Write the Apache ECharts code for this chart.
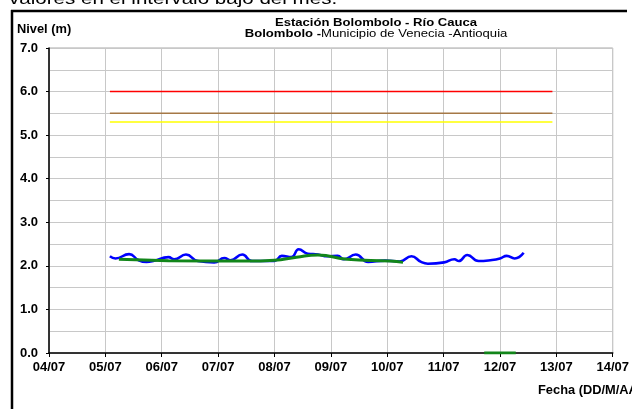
<!DOCTYPE html>
<html>
<head>
<meta charset="utf-8">
<script src="https://cdn.jsdelivr.net/npm/echarts@6/dist/echarts.min.js"></script>
<style>
html,body{margin:0;padding:0;background:#fff;}
#c{width:632px;height:409px;}
</style>
</head>
<body>
<div id="c"></div>
<script>
// ---- data ----
const xTickLabels = ['04/07','05/07','06/07','07/07','08/07','09/07','10/07','11/07','12/07','13/07','14/07'];
const yTickLabels = ['0.0','1.0','2.0','3.0','4.0','5.0','6.0','7.0'];
// day-of-month (decimal) , level (m)
const nivelObservado = [
  [5.08,2.22],[5.18,2.17],[5.42,2.27],[5.59,2.13],[5.73,2.09],[5.85,2.11],
  [6.12,2.20],[6.22,2.15],[6.43,2.26],[6.64,2.11],[6.93,2.08],[7.11,2.18],
  [7.22,2.13],[7.43,2.26],[7.60,2.11],[8.00,2.11],[8.13,2.23],[8.30,2.20],
  [8.43,2.38],[8.59,2.28],[8.77,2.26],[8.94,2.22],[9.12,2.23],[9.23,2.15],
  [9.44,2.26],[9.66,2.09],[9.96,2.12],[10.22,2.10],[10.43,2.22],[10.60,2.09],
  [10.72,2.05],[11.01,2.08],[11.19,2.15],[11.27,2.11],[11.42,2.25],[11.62,2.11],
  [11.83,2.13],[12.00,2.17],[12.12,2.23],[12.26,2.17],[12.42,2.30]
];
const nivelMedio = [
  [5.24,2.15],[6.12,2.12],[7.51,2.11],[8.00,2.13],[8.39,2.20],[8.77,2.25],
  [9.29,2.15],[10.05,2.11],[10.28,2.08]
];
const nivelMedioCero = [[11.72,0],[12.28,0]];
const umbralRojo = [[5.08,6.0],[12.93,6.0]];
const umbralNaranja = [[5.08,5.5],[12.93,5.5]];
const umbralAmarillo = [[5.08,5.3],[12.93,5.3]];

const chart = echarts.init(document.getElementById('c'), null, {renderer:'canvas'});
const F = "'Liberation Sans', Arial, sans-serif";

const lineSeries = (data, color, width, z, smooth) => ({
  type:'line', data, smooth: smooth, showSymbol:false, symbol:'none',
  lineStyle:{color, width}, z, silent:true, animation:false
});

chart.setOption({
  animation:false,
  backgroundColor:'#fff',
  grid:{left:49, right:10, top:48, bottom:56, show:true, borderColor:'#a8a8a8', borderWidth:1, backgroundColor:'transparent'},
  xAxis:{
    type:'value', min:4, max:14, interval:1,
    axisLine:{show:true, onZero:false, lineStyle:{color:'#000', width:1.5}},
    axisTick:{show:true, length:4, lineStyle:{color:'#000', width:1}},
    axisLabel:{color:'#000', fontFamily:F, fontWeight:'bold', fontSize:13, margin:8,
      formatter: v => xTickLabels[Math.round(v-4)] || ''},
    splitLine:{show:true, lineStyle:{color:'#c8c8c8', width:1}}
  },
  yAxis:{
    type:'value', min:0, max:7, interval:1,
    axisLine:{show:true, lineStyle:{color:'#000', width:1.5}},
    axisTick:{show:true, length:3, lineStyle:{color:'#000', width:1}},
    axisLabel:{color:'#000', fontFamily:F, fontWeight:'bold', fontSize:13, margin:11,
      formatter: v => yTickLabels[Math.round(v)] || ''},
    splitLine:{show:true, lineStyle:{color:'#c8c8c8', width:1}},
    minorTick:{show:false, splitNumber:2},
    minorSplitLine:{show:true, lineStyle:{color:'#c8c8c8', width:1}}
  },
  series:[
    lineSeries(umbralRojo, '#ff0000', 1.5, 2, false),
    lineSeries(umbralNaranja, '#a57846', 1.5, 2, false),
    lineSeries(umbralAmarillo, '#ffff00', 1.5, 2, false),
    lineSeries(nivelObservado, '#0000ff', 2.6, 3, 0.5),
    lineSeries(nivelMedio, '#12861a', 3, 4, 0.5),
    lineSeries(nivelMedioCero, '#12861a', 3, 4, false)
  ],
  graphic:[
    {type:'text', x:9, y:-1, scaleX:1.21, silent:true,
      style:{text:'valores en el intervalo bajo del mes.', font:"17px "+F, fill:'#000', verticalAlign:'middle'}},
    {type:'line', silent:true, shape:{x1:11, y1:11, x2:627, y2:11}, style:{stroke:'#000', lineWidth:2.5}},
    {type:'line', silent:true, shape:{x1:12, y1:10, x2:12, y2:409}, style:{stroke:'#000', lineWidth:2.5}},
    {type:'text', x:17, y:29.5, scaleX:1.07, silent:true,
      style:{text:'Nivel (m)', font:"bold 12px "+F, fill:'#000', verticalAlign:'middle'}},
    {type:'text', x:376, y:23, scaleX:1.19, silent:true,
      style:{text:'Estación Bolombolo - Río Cauca', font:"bold 11px "+F, fill:'#000', align:'center', verticalAlign:'middle'}},
    {type:'text', x:376, y:34, scaleX:1.19, silent:true,
      style:{text:'{b|Bolombolo -}{n|Municipio de Venecia -Antioquia}', align:'center', verticalAlign:'middle',
        rich:{b:{font:"bold 11px "+F, fill:'#000'}, n:{font:"11px "+F, fill:'#000'}}}},
    {type:'text', x:538, y:391, scaleX:1.07, silent:true,
      style:{text:'Fecha (DD/M/AA)', font:"bold 12px "+F, fill:'#000', verticalAlign:'middle'}}
  ]
});
</script>
</body>
</html>
